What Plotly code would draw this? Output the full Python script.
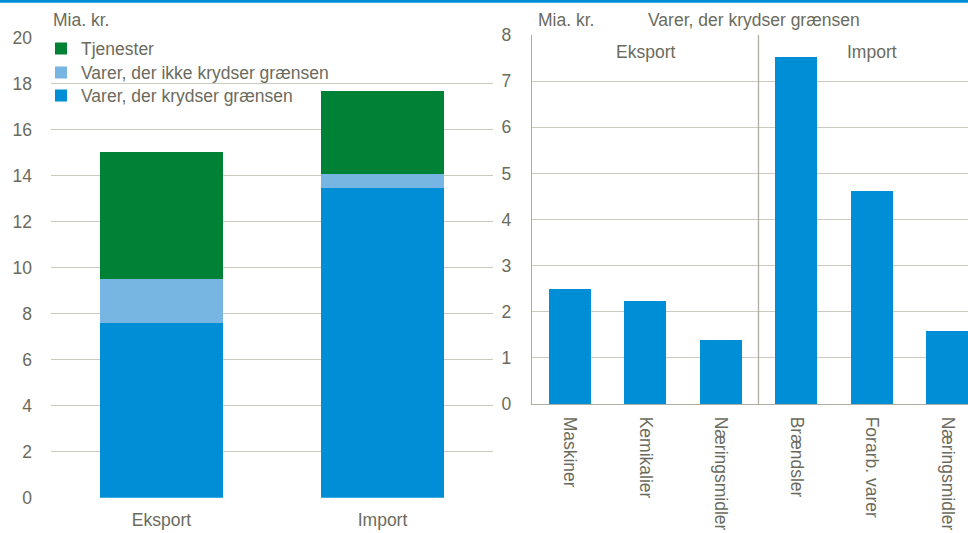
import plotly.graph_objects as go

# ---------------- data ----------------
left_categories = ["Eksport", "Import"]
varer_krydser = [7.61, 13.48]
varer_ikke_krydser = [1.91, 0.59]
tjenester = [5.51, 3.60]
left_ticks = [0, 2, 4, 6, 8, 10, 12, 14, 16, 18, 20]

right_labels = ["Maskiner", "Kemikalier", "Næringsmidler", "Brændsler", "Forarb. varer", "Næringsmidler"]
right_values = [2.49, 2.23, 1.38, 7.52, 4.61, 1.59]
right_groups = ["Eksport", "Import"]
right_ticks = [0, 1, 2, 3, 4, 5, 6, 7, 8]

# ---------------- style ----------------
FONT = "Liberation Sans, Arial, sans-serif"
TXT = "#6b6b5d"
GRID = "#cbcac0"
AXIS = "#aeada0"
BLUE = "#008fd6"
LIGHT = "#77b5e3"
GREEN = "#008236"
FS = 17.5

fig = go.Figure()

series = [("Varer, der krydser grænsen", varer_krydser, BLUE, "legend3", 95),
          ("Varer, der ikke krydser grænsen", varer_ikke_krydser, LIGHT, "legend2", 72),
          ("Tjenester", tjenester, GREEN, "legend", 48)]
for name, vals, col, leg, _ in series:
    fig.add_trace(go.Bar(x=left_categories, y=vals, name=name, marker_color=col,
                         marker_line_width=0, width=0.557, xaxis="x", yaxis="y",
                         legend=leg))

rx = list(range(len(right_labels)))
fig.add_trace(go.Bar(x=rx, y=right_values, marker_color=BLUE, marker_line_width=0,
                     width=0.556, xaxis="x2", yaxis="y2", showlegend=False))

legends = {}
for name, vals, col, leg, ycen in series:
    legends[leg] = dict(x=41 / 968, y=(533 - ycen + 17.4) / 533, xanchor="left",
                        yanchor="top", bgcolor="rgba(0,0,0,0)",
                        font=dict(size=FS, color=TXT, family=FONT),
                        itemwidth=30, borderwidth=0)

fig.update_layout(
    width=968, height=533,
    margin=dict(l=0, r=0, t=0, b=0, autoexpand=False),
    paper_bgcolor="white", plot_bgcolor="white",
    barmode="stack",
    font=dict(family=FONT, size=FS, color=TXT),
    showlegend=True,
    xaxis=dict(domain=[51 / 968, 493 / 968], range=[-0.5, 1.5], showgrid=False,
               showline=False, ticks="", ticklabelstandoff=10, automargin=False,
               tickfont=dict(size=FS, color=TXT), anchor="y", fixedrange=True),
    yaxis=dict(domain=[(533 - 497.7) / 533, (533 - 37.7) / 533], range=[0, 20],
               tickvals=left_ticks, showgrid=True, gridcolor=GRID, gridwidth=1.3,
               zeroline=False, showline=False, ticks="", ticklabelstandoff=18,
               automargin=False,
               tickfont=dict(size=FS, color=TXT), anchor="x", fixedrange=True),
    xaxis2=dict(domain=[532 / 968, 1.0], range=[-0.5, 5.275], tickvals=rx,
                ticktext=right_labels, tickangle=90, showgrid=False,
                showline=True, linecolor=AXIS, linewidth=1.3, ticks="",
                ticklabelstandoff=8, tickfont=dict(size=FS, color=TXT),
                automargin=False, anchor="y2", fixedrange=True),
    yaxis2=dict(domain=[(533 - 404) / 533, (533 - 35) / 533], range=[0, 8],
                tickvals=right_ticks, showgrid=True, gridcolor=GRID, gridwidth=1.3,
                zeroline=False, showline=True, linecolor=AXIS, linewidth=1.3,
                ticks="", ticklabelstandoff=16, tickfont=dict(size=FS, color=TXT),
                automargin=False, anchor="x2", fixedrange=True),
    **legends,
)

# top blue rule
fig.add_shape(type="line", xref="paper", yref="paper", x0=0, x1=1, y0=1 - 1.2 / 533,
              y1=1 - 1.2 / 533, line=dict(color=BLUE, width=3))
# separator between Eksport / Import groups in right panel
fig.add_shape(type="line", xref="x2", yref="y2", x0=2.5, x1=2.5, y0=0, y1=8,
              line=dict(color=AXIS, width=1.3))

ann = [
    dict(text="Mia. kr.", xref="paper", yref="paper", x=51 / 968, y=(533 - 20) / 533,
         xanchor="left", yanchor="middle"),
    dict(text="Mia. kr.", xref="paper", yref="paper", x=536 / 968, y=(533 - 20) / 533,
         xanchor="left", yanchor="middle"),
    dict(text="Varer, der krydser grænsen", xref="paper", yref="paper", x=754 / 968,
         y=(533 - 20) / 533, xanchor="center", yanchor="middle"),
    dict(text=right_groups[0], xref="x2", yref="paper", x=1, y=(533 - 52) / 533,
         xanchor="center", yanchor="middle"),
    dict(text=right_groups[1], xref="x2", yref="paper", x=4, y=(533 - 52) / 533,
         xanchor="center", yanchor="middle"),
]
for a in ann:
    a.update(showarrow=False, font=dict(family=FONT, size=FS, color=TXT))
    fig.add_annotation(**a)

fig.write_html("out.html", config={"displayModeBar": False},
               post_script="document.body.style.margin='0';document.body.style.overflow='hidden';")
